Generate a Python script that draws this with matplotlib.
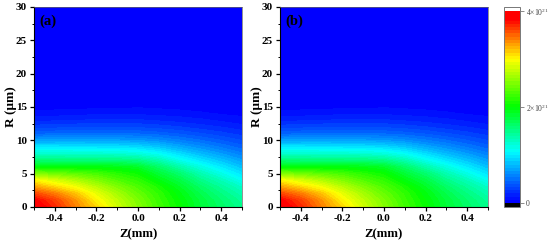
import numpy as np
import matplotlib
matplotlib.use("Agg")
import matplotlib.pyplot as plt
from matplotlib.colors import LinearSegmentedColormap, BoundaryNorm
from matplotlib.ticker import FixedLocator

plt.rcParams['font.family'] = ['Liberation Serif', 'DejaVu Serif']
plt.rcParams['mathtext.fontset'] = 'custom'
plt.rcParams['mathtext.rm'] = 'Liberation Serif'

z_mm = [-0.5, -0.4, -0.3, -0.2, -0.1, 0.0, 0.1, 0.2, 0.3, 0.4, 0.5]
r_um = [0, 1, 2, 3, 4, 5, 6, 7, 8, 9, 10, 11, 12, 13, 14, 15, 30]
# density in units of 1e21, one row per R value
density = [
    [3.95, 3.70, 3.40, 3.12, 2.80, 2.52, 2.25, 2.03, 1.80, 1.63, 1.48],
    [3.85, 3.62, 3.34, 3.02, 2.74, 2.48, 2.22, 2.00, 1.78, 1.60, 1.44],
    [3.60, 3.42, 3.18, 2.90, 2.64, 2.40, 2.18, 1.95, 1.72, 1.53, 1.36],
    [3.30, 3.12, 2.95, 2.72, 2.50, 2.30, 2.10, 1.87, 1.63, 1.44, 1.26],
    [3.00, 2.84, 2.68, 2.50, 2.32, 2.18, 1.95, 1.75, 1.50, 1.32, 1.10],
    [2.50, 2.42, 2.35, 2.27, 2.15, 2.04, 1.80, 1.60, 1.35, 1.15, 0.96],
    [1.97, 1.96, 1.95, 1.94, 1.92, 1.85, 1.62, 1.38, 1.17, 0.99, 0.82],
    [1.57, 1.56, 1.55, 1.55, 1.54, 1.50, 1.35, 1.13, 0.97, 0.83, 0.68],
    [1.25, 1.25, 1.24, 1.23, 1.22, 1.18, 1.08, 0.93, 0.79, 0.67, 0.55],
    [0.98, 0.98, 0.97, 0.96, 0.95, 0.92, 0.84, 0.72, 0.62, 0.52, 0.43],
    [0.68, 0.68, 0.69, 0.69, 0.68, 0.66, 0.61, 0.54, 0.47, 0.40, 0.33],
    [0.45, 0.46, 0.47, 0.47, 0.47, 0.46, 0.43, 0.39, 0.34, 0.29, 0.24],
    [0.30, 0.31, 0.32, 0.33, 0.33, 0.32, 0.30, 0.27, 0.23, 0.20, 0.16],
    [0.18, 0.19, 0.20, 0.21, 0.21, 0.21, 0.19, 0.17, 0.15, 0.12, 0.09],
    [0.09, 0.10, 0.11, 0.12, 0.12, 0.12, 0.11, 0.10, 0.08, 0.06, 0.05],
    [0.03, 0.04, 0.04, 0.05, 0.05, 0.06, 0.05, 0.04, 0.03, 0.02, 0.01],
    [0.00, 0.00, 0.00, 0.00, 0.00, 0.00, 0.00, 0.00, 0.00, 0.00, 0.00],
]
panel_labels = ['(a)', '(b)']
r_ticks = [0, 5, 10, 15, 20, 25, 30]
z_ticks = [-0.4, -0.2, 0.0, 0.2, 0.4]
bar_ticks = [0, 2, 4]
bar_labels = ['0', r'$2{\times}10^{21}$', r'$4{\times}10^{21}$']

cmap = LinearSegmentedColormap.from_list('rb', [
    (0.0, '#0000ff'), (1.05/4, '#00ffff'), (2.0/4, '#00ff00'),
    (3.0/4, '#ffff00'), (3.85/4, '#ff0000'), (1.0, '#ff0000')], N=256)
cmap.set_under('black')
cmap.set_over('white')
levels = np.linspace(0, 4, 61)
norm = BoundaryNorm(levels, cmap.N, extend='neither')
W, H = 550, 244
fig = plt.figure(figsize=(W/100, H/100), dpi=100)


def box(x0, x1, y0, y1):
    return [x0/W, 1-y1/H, (x1-x0)/W, (y1-y0)/H]


for (x0, x1), lab in zip([(34, 242), (280, 488)], panel_labels):
    ax = fig.add_axes(box(x0, x1, 7, 207))
    ax.set_facecolor('#0000ff')
    ax.contourf(z_mm, r_um, density, levels=levels, cmap=cmap, norm=norm)
    ax.set_xlim(-0.5, 0.5)
    ax.set_ylim(0, 30)
    for side in ('top', 'right'):
        ax.spines[side].set_color('#666666')
        ax.spines[side].set_linewidth(0.5)
    ax.set_xticks(z_ticks, [f'{t:.1f}' for t in z_ticks])
    ax.set_yticks(r_ticks)
    ax.xaxis.set_minor_locator(FixedLocator([-0.5, -0.3, -0.1, 0.1, 0.3, 0.5]))
    ax.yaxis.set_minor_locator(FixedLocator(np.arange(2.5, 30, 5)))
    ax.tick_params(which='major', length=3.2, width=0.9, labelsize=8, pad=2)
    ax.tick_params(which='minor', length=1.8, width=0.7)
    for t in ax.get_xticklabels() + ax.get_yticklabels():
        t.set_fontweight('bold')
    ax.set_xlabel('Z(mm)', fontsize=9.2, fontweight='bold', labelpad=4)
    ax.set_ylabel('R (μm)', fontsize=9.5, fontweight='bold', labelpad=-1)
    ax.text(0.025, 0.93, lab, transform=ax.transAxes, fontsize=10.5, fontweight='bold', va='center')

cax = fig.add_axes(box(503.5, 520, 7, 207))
sm = plt.cm.ScalarMappable(cmap=cmap, norm=norm)
cb = fig.colorbar(sm, cax=cax, extend='both', extendrect=True, extendfrac=0.021, spacing='proportional')
cb.set_ticks(bar_ticks, labels=bar_labels)
cb.ax.minorticks_off()
cb.ax.tick_params(length=3, width=0.6, color='#777777', labelsize=5.5, labelcolor='#444444', pad=1.5)
cb.outline.set_edgecolor('#777777')
cb.outline.set_linewidth(0.7)
fig.savefig('out.png', dpi=100)
